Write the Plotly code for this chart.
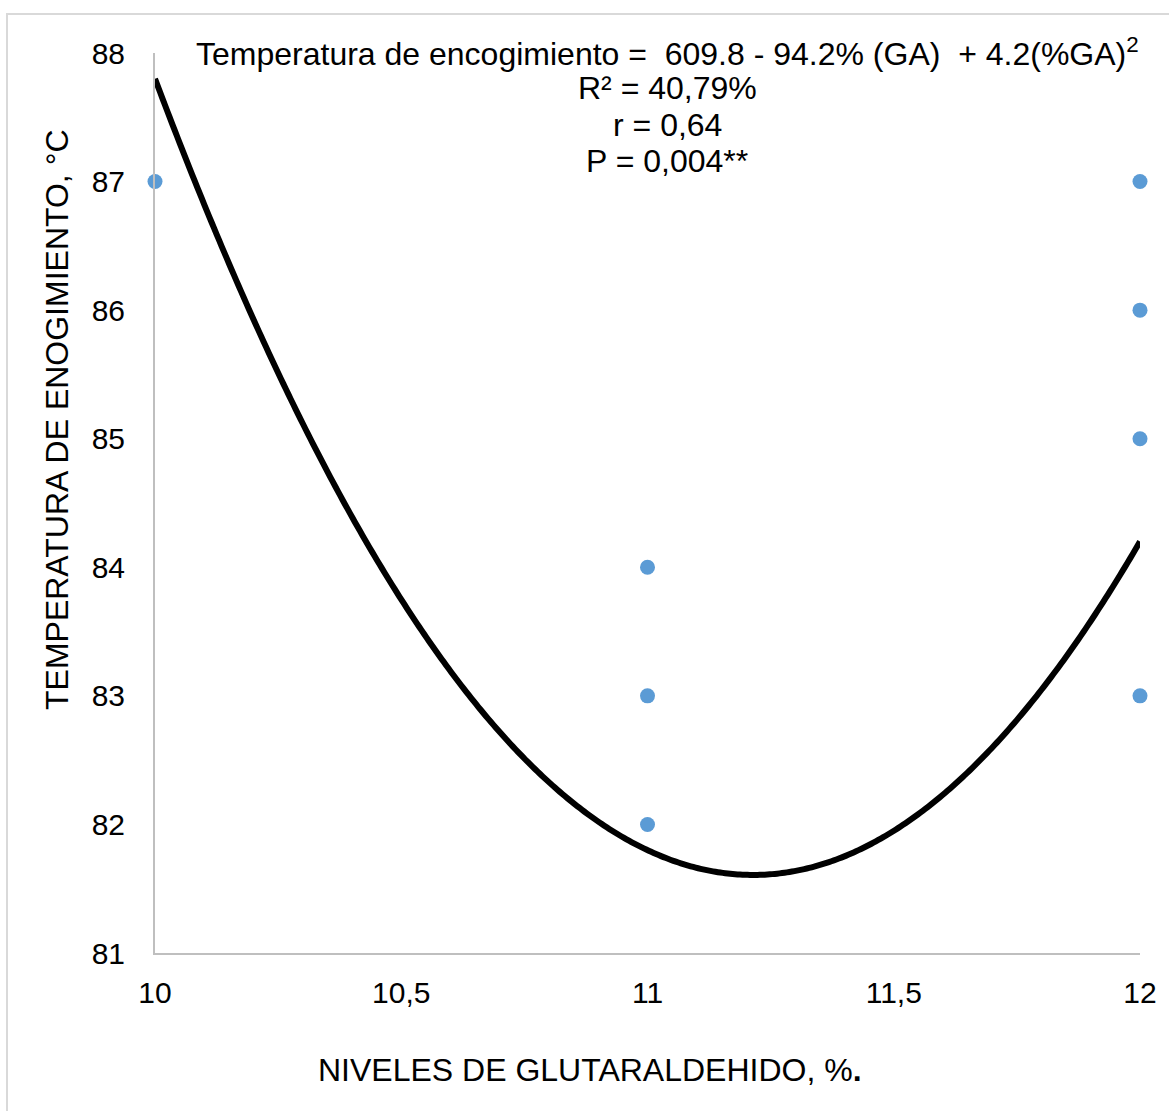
import numpy as np
import plotly.graph_objects as go

# Observed data
ga_levels = [10, 11, 11, 11, 12, 12, 12, 12]
shrink_temp = [87, 84, 83, 82, 87, 86, 85, 83]

# Fitted quadratic trend (coefficients as printed on chart): c0 + c1*x + c2*x^2
trend_coefs = [609.8, -94.2, 4.2]

x_ticks = [10, 10.5, 11, 11.5, 12]
x_tick_labels = ["10", "10,5", "11", "11,5", "12"]
y_ticks = [81, 82, 83, 84, 85, 86, 87, 88]
y_tick_labels = ["81", "82", "83", "84", "85", "86", "87", "88"]

eq_lines = [
    "Temperatura de encogimiento =  609.8 - 94.2% (GA)  + 4.2(%GA)<sup>2</sup>",
    "R² = 40,79%",
    "r = 0,64",
    "P = 0,004**",
]

xs = np.linspace(10, 12, 400)
ys = trend_coefs[0] + trend_coefs[1] * xs + trend_coefs[2] * xs ** 2

FONT = "Liberation Sans, Arial, sans-serif"

fig = go.Figure()
fig.add_trace(go.Scatter(
    x=xs, y=ys, mode="lines",
    line=dict(color="black", width=6, simplify=False),
    hoverinfo="skip", showlegend=False,
))
fig.add_trace(go.Scatter(
    x=ga_levels, y=shrink_temp, mode="markers",
    marker=dict(color="#5B9BD5", size=15),
    showlegend=False, cliponaxis=False,
))

L, R, T, B = 155, 29, 53, 158
W, H = 1169, 1111
pw, ph = W - L - R, H - T - B

def px_to_paper_x(px):
    return (px - L) / pw

def px_to_paper_y(py):
    return (H - B - py) / ph

fig.update_layout(
    width=W, height=H,
    margin=dict(l=L, r=R, t=T, b=B),
    paper_bgcolor="white", plot_bgcolor="white",
    font=dict(family=FONT, size=30, color="black"),
    xaxis=dict(
        range=[10, 12], tickvals=x_ticks, ticktext=x_tick_labels,
        showgrid=False, zeroline=False, showline=True,
        linecolor="#BFBFBF", linewidth=2, ticks="", ticklabelstandoff=12,
        tickfont=dict(size=30, family=FONT),
    ),
    yaxis=dict(
        range=[81, 88], tickvals=y_ticks, ticktext=y_tick_labels,
        showgrid=False, zeroline=False, showline=True,
        linecolor="#BFBFBF", linewidth=2, ticks="", ticklabelstandoff=22,
        tickfont=dict(size=30, family=FONT),
    ),
)

# outer chart border (top & left visible)
fig.add_shape(type="rect", xref="paper", yref="paper",
              x0=px_to_paper_x(7), x1=px_to_paper_x(1200),
              y0=px_to_paper_y(1200), y1=px_to_paper_y(14),
              line=dict(color="#D9D9D9", width=2), layer="below")

for i, line in enumerate(eq_lines):
    fig.add_annotation(
        xref="paper", yref="paper",
        x=px_to_paper_x(667), y=px_to_paper_y(52 + 36.5 * i),
        text=line, showarrow=False, xanchor="center", yanchor="middle",
        font=dict(size=32, family=FONT, color="black"),
    )

fig.add_annotation(
    xref="paper", yref="paper",
    x=px_to_paper_x(590), y=px_to_paper_y(1070),
    text="NIVELES DE GLUTARALDEHIDO, %<b>.</b>", showarrow=False,
    xanchor="center", yanchor="middle",
    font=dict(size=32, family=FONT, color="black"),
)
fig.add_annotation(
    xref="paper", yref="paper",
    x=px_to_paper_x(57), y=px_to_paper_y(420),
    text="TEMPERATURA DE ENOGIMIENTO, °C", showarrow=False, textangle=-90,
    xanchor="center", yanchor="middle",
    font=dict(size=32, family=FONT, color="black"),
)

fig.write_html("out.html")
